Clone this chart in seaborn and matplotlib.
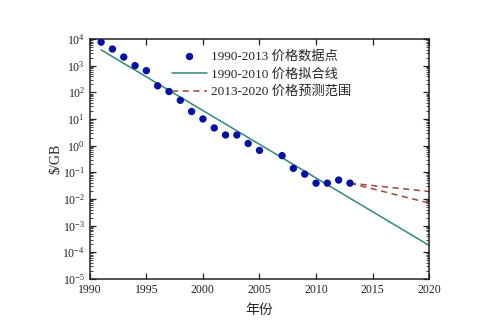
import matplotlib
matplotlib.use("Agg")
import matplotlib.pyplot as plt
import matplotlib.ticker as mticker
import seaborn as sns
import pandas as pd

# Observed storage prices ($/GB)
years = [1991, 1992, 1993, 1994, 1995, 1996, 1997, 1998, 1999, 2000, 2001,
         2002, 2003, 2004, 2005, 2007, 2008, 2009, 2010, 2011, 2012, 2013]
prices = [7600, 4200, 2100, 1000, 650, 175, 107, 50, 19, 10, 4.6,
          2.5, 2.5, 1.2, 0.66, 0.42, 0.14, 0.085, 0.039, 0.039, 0.051, 0.039]

# Exponential fit line endpoints
fit_years = [1991, 2020]
fit_prices = [3900, 1.8e-4]

# Forecast bounds 2013-2020
proj_years = [2013, 2020]
proj_upper = [0.039, 0.019]
proj_lower = [0.039, 0.007]

sns.set_theme(style="ticks")
fam = ["Liberation Serif", "Noto Sans CJK SC", "DejaVu Sans"]
plt.rcParams["font.family"] = fam
plt.rcParams["mathtext.fontset"] = "custom"
plt.rcParams["mathtext.rm"] = "Liberation Serif"
plt.rcParams["axes.unicode_minus"] = False

fig, ax = plt.subplots(figsize=(4.99, 3.36), dpi=100)
fig.subplots_adjust(left=0.18, right=0.86, top=0.884, bottom=0.17)

df_pts = pd.DataFrame({"year": years, "price": prices})
df_fit = pd.DataFrame({"year": fit_years, "price": fit_prices})

sns.scatterplot(data=df_pts, x="year", y="price", ax=ax, color="#0510a5",
                s=28, edgecolor="none", label="1990-2013 价格数据点", zorder=3)
sns.lineplot(data=df_fit, x="year", y="price", ax=ax, color="#2f8a78",
             lw=1.1, label="1990-2010 价格拟合线")
ax.plot(proj_years, proj_upper, color="#a0443c", lw=1.1, ls=(0, (4, 3)),
        label="2013-2020 价格预测范围")
ax.plot(proj_years, proj_lower, color="#a0443c", lw=1.1, ls=(0, (4, 3)))

ax.set_yscale("log")
ax.set_xlim(1990, 2020)
ax.set_ylim(1e-5, 1e4)
ax.set_xticks(range(1990, 2021, 5))
ax.yaxis.set_major_locator(mticker.LogLocator(base=10, numticks=20))
ax.yaxis.set_minor_locator(mticker.LogLocator(base=10, subs=range(2, 10), numticks=20))
ax.yaxis.set_minor_formatter(mticker.NullFormatter())

ax.tick_params(which="both", direction="in", top=True, right=True,
               colors="#222222", labelsize=8.5)
ax.tick_params(which="major", length=4, width=0.9)
ax.tick_params(which="minor", length=2, width=0.6)
for sp in ax.spines.values():
    sp.set_linewidth(1.1)
    sp.set_color("#222222")

ax.set_xlabel("年份", fontsize=10, family=fam, labelpad=6)
ax.set_ylabel("$/GB", fontsize=10, family=fam, labelpad=0)

leg = ax.legend(loc="upper left", bbox_to_anchor=(0.22, 0.985), frameon=False,
                fontsize=9.5, handlelength=2.6, handletextpad=0.3,
                labelspacing=0.4, borderaxespad=0.2)
for t in leg.get_texts():
    t.set_family(fam)

fig.savefig("out.png", dpi=100)
